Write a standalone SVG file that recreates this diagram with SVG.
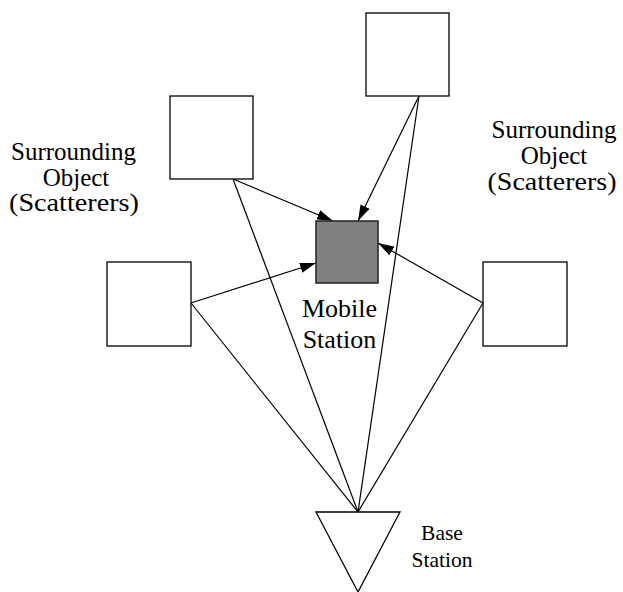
<svg xmlns="http://www.w3.org/2000/svg" width="623" height="592" viewBox="0 0 623 592">
  <defs>
    <marker id="arrow" viewBox="0 0 16 10" refX="16" refY="5" markerWidth="16" markerHeight="10" markerUnits="userSpaceOnUse" orient="auto">
      <path d="M0,0 L16,5 L0,10 Z" fill="#000"/>
    </marker>
  </defs>
  <style>
    .box { fill: #fff; stroke: #000; stroke-width: 1.3; }
    .mobile { fill: #808080; stroke: #222; stroke-width: 1.5; }
    .line { stroke: #000; stroke-width: 1.2; fill: none; }
    .arr { marker-end: url(#arrow); }
    text { font-family: "Liberation Serif", "Times New Roman", serif; fill: #000; text-anchor: middle; }
  </style>
  <rect width="623" height="592" fill="#fff"/>

  <!-- connectors -->
  <g id="connectors">
    <!-- scattered paths to the mobile station -->
    <line class="line arr" x1="233" y1="179" x2="333" y2="221"/>
    <line class="line arr" x1="419" y1="96" x2="358" y2="221"/>
    <line class="line arr" x1="191" y1="303" x2="316" y2="263"/>
    <line class="line arr" x1="483" y1="303" x2="378" y2="243"/>
    <!-- paths from the base station to the scatterers -->
    <line class="line" x1="233" y1="179" x2="358" y2="512"/>
    <line class="line" x1="419" y1="96" x2="358" y2="512"/>
    <line class="line" x1="191" y1="303" x2="358" y2="512"/>
    <line class="line" x1="483" y1="303" x2="358" y2="512"/>
  </g>

  <g id="scatterer-top">
    <rect class="box" x="366" y="13" width="83" height="83"/>
  </g>
  <g id="scatterer-upper-left">
    <rect class="box" x="170" y="96" width="83" height="83"/>
  </g>
  <g id="scatterer-left">
    <rect class="box" x="107" y="262" width="84" height="84"/>
  </g>
  <g id="scatterer-right">
    <rect class="box" x="483" y="262" width="84" height="84"/>
  </g>

  <g id="mobile-station">
    <rect class="mobile" x="316" y="221" width="62" height="62"/>
    <text x="339.5" y="317" font-size="26">Mobile</text>
    <text x="339.5" y="348" font-size="26">Station</text>
  </g>

  <g id="base-station">
    <polygon class="box" points="316,512 400,512 358,592"/>
    <text x="442" y="540" font-size="21.5">Base</text>
    <text x="442" y="567" font-size="21.5">Station</text>
  </g>

  <g id="label-left">
    <text x="73.5" y="160" font-size="25">Surrounding</text>
    <text x="76" y="186" font-size="25">Object</text>
    <text x="74" y="211" font-size="25" textLength="130" lengthAdjust="spacingAndGlyphs">(Scatterers)</text>
  </g>

  <g id="label-right">
    <text x="554" y="138" font-size="25">Surrounding</text>
    <text x="554" y="164" font-size="25">Object</text>
    <text x="552" y="190" font-size="25" textLength="129" lengthAdjust="spacingAndGlyphs">(Scatterers)</text>
  </g>
</svg>
